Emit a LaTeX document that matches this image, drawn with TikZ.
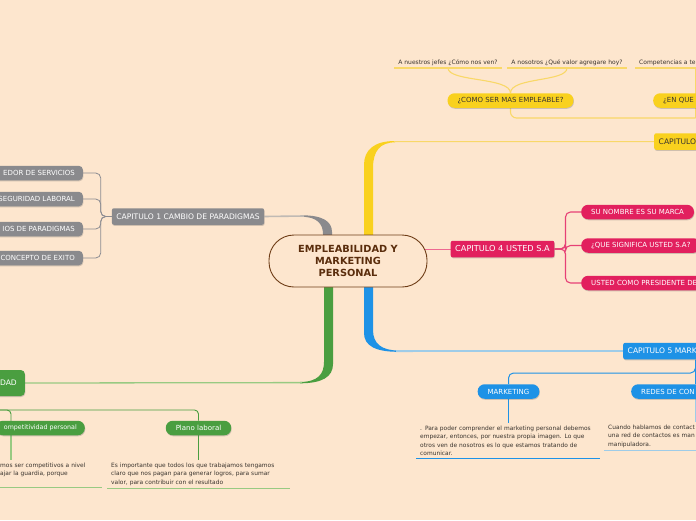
\documentclass[tikz,border=0pt]{standalone}
\usepackage{fontspec}
\setmainfont{DejaVu Sans}
\usetikzlibrary{shadows, backgrounds}

\definecolor{fondo}{RGB}{253,230,206}
\definecolor{cafe}{RGB}{110,60,22}
\definecolor{cafeo}{RGB}{90,45,12}
\definecolor{gris}{RGB}{138,138,141}
\definecolor{grisl}{RGB}{140,140,146}
\definecolor{grisc}{RGB}{192,186,180}
\definecolor{amar}{RGB}{249,209,30}
\definecolor{amarl}{RGB}{249,216,104}
\definecolor{rosa}{RGB}{226,32,94}
\definecolor{rosal}{RGB}{238,105,145}
\definecolor{azul}{RGB}{30,146,230}
\definecolor{azull}{RGB}{158,204,232}
\definecolor{verde}{RGB}{74,158,64}
\definecolor{verdel}{RGB}{152,202,130}
\definecolor{texto}{RGB}{58,52,46}

\begin{document}
\begin{tikzpicture}[x=1pt, y=-1pt,
    sombra/.style={drop shadow={shadow xshift=0.5pt, shadow yshift=-1pt, opacity=0.3, fill=black!60}},
    core/.style={rectangle, draw=cafe, line width=0.9pt, fill=fondo, rounded corners=25pt, minimum width=158pt, minimum height=52pt, align=center, text=cafeo, font=\fontsize{9.8}{12}\selectfont\bfseries},
    chap/.style={rectangle, rounded corners=2pt, minimum height=16.5pt, inner xsep=4.5pt, text=white, font=\fontsize{7.6}{9}\selectfont, sombra},
    sub/.style={rectangle, rounded corners=7pt, minimum height=14.5pt, inner xsep=10pt, text=white, font=\fontsize{7}{8}\selectfont, sombra},
    gsub/.style={sub, rounded corners=4pt, inner xsep=8pt, fill=gris},
    leaf/.style={inner xsep=4pt, inner ysep=2.5pt, text=texto, font=\fontsize{6}{7}\selectfont},
    para/.style={inner xsep=4pt, inner ysep=3pt, align=left, text=texto, font=\fontsize{5.9}{8.2}\selectfont},
    grisline/.style={draw=grisl, line width=0.8pt},
    rosaline/.style={draw=rosa!85, line width=1.1pt},
    azulline/.style={draw=azul, line width=1pt},
    verdeline/.style={draw=verde, line width=0.9pt},
    amarline/.style={draw=amarl, line width=1.1pt}
  ]

\useasboundingbox (0,0) rectangle (696,520);
\clip (0,0) rectangle (696,520);

% centro
\node[core] (centro) at (348,261) {EMPLEABILIDAD Y\\MARKETING\\PERSONAL};

% capitulo 1
\node[chap, fill=gris] (cap1) at (188,216.5) {CAPITULO 1 CAMBIO DE PARADIGMAS};
\node[gsub, anchor=east] (g1) at (83,173) {EDOR DE SERVICIOS};
\node[gsub, anchor=east] (g2) at (83,199) {SEGURIDAD LABORAL};
\node[gsub, anchor=east] (g3) at (83,229) {IOS DE PARADIGMAS};
\node[gsub, anchor=east] (g4) at (83,258) {CONCEPTO DE EXITO};

% capitulo 2
\node[chap, fill=verde, anchor=east, minimum height=26pt, rounded corners=4pt, inner xsep=8pt] (cap2) at (25,383) {DAD};
\node[sub, fill=verde, anchor=east, inner xsep=8pt, font=\fontsize{6.3}{7}\selectfont] (cp) at (85,428) {ompetitividad personal};
\node[sub, fill=verde] (plano) at (198.5,428) {Plano laboral};
\node[para, text width=98pt, anchor=north west] (cpp) at (-4,460) {mos ser competitivos a nivel\\ajar la guardia, porque\\\mbox{}};
\node[para, text width=175pt, anchor=north west] (planop) at (107,460) {Es importante que todos los que trabajamos tengamos\\claro que nos pagan para generar logros, para sumar\\valor, para contribuir con el resultado};

% capitulo 3
\node[chap, fill=amar, text=texto, anchor=west] (cap3) at (654,141.5) {CAPITULO};
\node[sub, fill=amar, text=texto] (como) at (510.5,100.5) {¿COMO SER MAS EMPLEABLE?};
\node[sub, fill=amar, text=texto, anchor=west] (enque) at (653,100.5) {¿EN QUE};
\node[leaf, anchor=south] (l1) at (448,68) {A nuestros jefes ¿Cómo nos ven?};
\node[leaf, anchor=south] (l2) at (567,68) {A nosotros ¿Qué valor agregare hoy?};
\node[leaf, anchor=south west] (l3) at (635,68) {Competencias a te};

% capitulo 4
\node[chap, fill=rosa, font=\fontsize{8.2}{10}\selectfont] (cap4) at (502.5,249) {CAPITULO 4 USTED S.A};
\node[sub, fill=rosa, anchor=west] (p1) at (581,212) {SU NOMBRE ES SU MARCA};
\node[sub, fill=rosa, anchor=west] (p2) at (581,245.5) {¿QUE SIGNIFICA USTED S.A?};
\node[sub, fill=rosa, anchor=west] (p3) at (581,283) {USTED COMO PRESIDENTE DE};

% capitulo 5
\node[chap, fill=azul, anchor=west] (cap5) at (623,351) {CAPITULO 5 MARK};
\node[sub, fill=azul] (mkt) at (508.5,391.5) {MARKETING};
\node[sub, fill=azul, anchor=west] (redes) at (631,391.5) {REDES DE CON};
\node[para, text width=176pt, anchor=north west] (mktp) at (416,423) {. Para poder comprender el marketing personal debemos\\empezar, entonces, por nuestra propia imagen. Lo que\\otros ven de nosotros es lo que estamos tratando de\\comunicar.};
\node[para, text width=100pt, anchor=north west] (redp) at (604,422) {Cuando hablamos de contact\\una red de contactos es man\\manipuladora.};

\begin{pgfonlayer}{background}
\fill[fondo] (0,0) rectangle (696,520);

% ramas
\fill[gris] (323,245) -- (323,234) .. controls (323,224) and (317,216.8) .. (302,216.8) -- (302,215.3) .. controls (322,215.3) and (332,221) .. (332,232) -- (332,245) -- cycle;
\fill[amar] (364,245) -- (364,165) .. controls (364,150) and (374,141) .. (395,141) -- (395,142.3) .. controls (380,142.5) and (373,151) .. (373,168) -- (373,245) -- cycle;
\fill[verde] (324,280) -- (324,362) .. controls (324,374) and (318,381.8) .. (300,382) -- (300,383.3) .. controls (322,383.3) and (333,377) .. (333,364) -- (333,280) -- cycle;
\fill[azul] (364,280) -- (364,333) .. controls (364,346) and (376,351.8) .. (398,351.8) -- (398,350.5) .. controls (382,350.3) and (373,344) .. (373,330) -- (373,280) -- cycle;

\coordinate (tg) at (304,216);
\coordinate (ty) at (394,141.6);
\coordinate (tv) at (302,382.6);
\coordinate (ta) at (396,351.1);
\coordinate (tr) at (400,249);
\draw[grisc, line width=1.6pt] (tg) -- (cap1.east);
\draw[amarl, line width=1pt] (ty) -- (cap3.west);
\draw[verdel, line width=1.3pt] (tv) -- (cap2.east);
\draw[azull, line width=1.8pt] (ta) -- (cap5.west);
\draw[rosal, line width=1pt] (tr) -- (cap4.west);

% capitulo 1
\foreach \g in {g1,g2,g3,g4}
  \draw[grisline, rounded corners=5pt] (cap1.west) -- ++(-11,0) |- (\g.east);

% capitulo 2
\coordinate (gv) at (-3,410);
\coordinate (cpx) at (11,421);
\draw[verdeline, rounded corners=4pt] (gv) -| (plano.north);
\draw[verdeline, rounded corners=4pt] (gv) -| (cpx);
\draw[verdel, line width=1.3pt] (cpx |- cp.south) -- (cpx |- cpp.north);
\draw[verdeline] (plano.south) -- (plano.south |- planop.north);
\draw[verdel, line width=1.3pt] (cpp.south west) -- (cpp.south east);
\draw[verdel, line width=1.3pt] (planop.south west) -- (planop.south east);

% capitulo 3
\coordinate (yr) at (695.5,118);
\draw[amarline] (l3.south -| yr) -- (yr);
\draw[amarline, rounded corners=6pt] (yr) -| (como.south);
\draw[amarline] (como.north) .. controls +(0,-16) and +(0,14) .. (l1.south);
\draw[amarline] (como.north) .. controls +(0,-16) and +(0,14) .. (l2.south);
\foreach \l in {l1,l2,l3}
  \draw[amarl, line width=1.5pt] (\l.south west) -- (\l.south east);

% capitulo 4
\foreach \p in {p1,p2,p3}
  \draw[rosaline, rounded corners=5pt] (cap4.east) -- ++(11,0) |- (\p.west);

% capitulo 5
\coordinate (bj) at (695.5,359.5);
\draw[azulline, rounded corners=5pt] (bj) -- ++(0,13.5) -| (mkt.north);
\draw[azulline] (bj) -- (bj |- redes.north);
\draw[azull, line width=1.3pt] (bj |- redes.south) -- (bj |- redp.north);
\draw[azulline] (mkt.south) -- (mkt.south |- mktp.north);
\draw[azul, line width=1.2pt] (mktp.south west) -- (mktp.south east);
\draw[azull, line width=1.5pt] (redp.south west) -- (redp.south east);
\end{pgfonlayer}

\end{tikzpicture}
\end{document}
